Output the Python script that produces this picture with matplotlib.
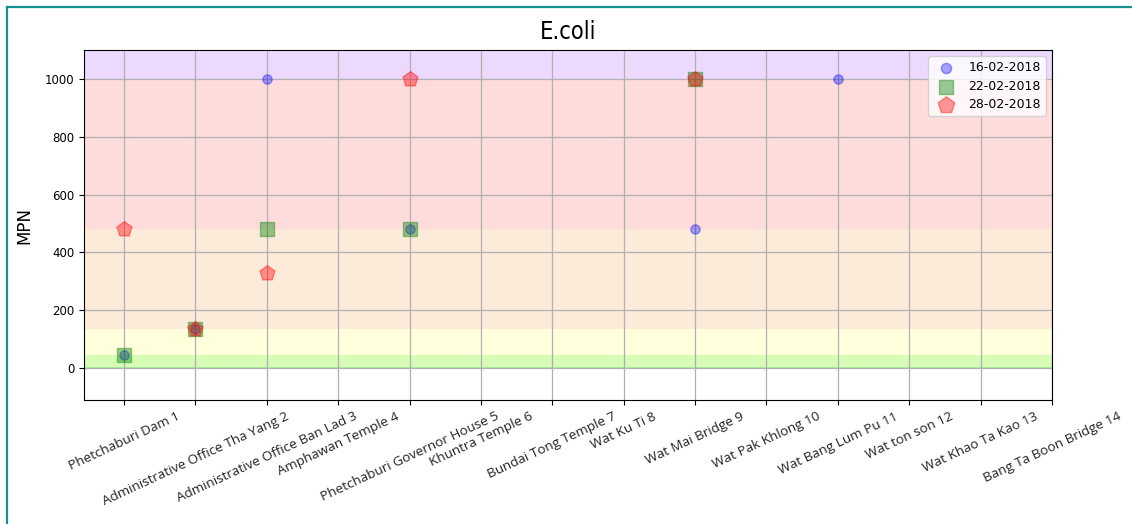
import numpy as np
from matplotlib import pyplot as plt
from matplotlib.lines import Line2D

# sampling sites along the river
sites = ['Phetchaburi Dam 1', 'Administrative Office Tha Yang 2',
         'Administrative Office Ban Lad 3', 'Amphawan Temple 4',
         'Phetchaburi Governor House 5', 'Khuntra Temple 6',
         'Bundai Tong Temple 7', 'Wat Ku Ti 8', 'Wat Mai Bridge 9',
         'Wat Pak Khlong 10', 'Wat Bang Lum Pu 11', 'Wat ton son 12',
         'Wat Khao Ta Kao 13', 'Bang Ta Boon Bridge 14']

nan = np.nan
# E.coli MPN per sampling date (nan = no sample)
ecoli_1602 = [46, 135, 1000, nan, 480, nan, nan, nan, 480, nan, 1000, nan, nan, nan]
ecoli_2202 = [46, 135, 480, nan, 480, nan, nan, nan, 1000, nan, nan, nan, nan, nan]
ecoli_2802 = [480, 135, 330, nan, 1000, nan, nan, nan, 1000, nan, nan, nan, nan, nan]

# quality bands (lower, upper, colour)
band_edges = [0, 5, 46, 135, 480, 1000, 1100]
band_colors = ['#a3f09c', '#d6fcb6', '#ffffdc', '#fdebda', '#ffdcdc', '#edd9fe']

fig = plt.figure(figsize=(11.32, 5.24), dpi=100)
ax = fig.add_axes([0.0742, 0.2366, 0.8551, 0.668])

for i in range(len(band_colors)):
    ax.axhspan(band_edges[i], band_edges[i + 1], color=band_colors[i], zorder=0, lw=0)

x = np.arange(len(sites))
ax.scatter(x, ecoli_1602, marker='o', s=45, color='blue', alpha=0.35, label='16-02-2018', zorder=3)
ax.scatter(x, ecoli_2202, marker='s', s=90, color='green', alpha=0.4, label='22-02-2018', zorder=3)
ax.scatter(x, ecoli_2802, marker='p', s=130, color='red', alpha=0.4, label='28-02-2018', zorder=3)

ax.set_xlim(-0.56, 13)
ax.set_ylim(-110, 1100)
ax.set_xticks(x)
ax.set_xticklabels(sites, rotation=25, fontsize=9.7, family=['Open Sans', 'DejaVu Sans'], color='#222222')
ax.tick_params(axis='y', labelsize=8.5)
ax.set_axisbelow(True)
ax.grid(True, color='#b0b0b0', lw=0.9)

ax.set_ylabel('MPN', fontsize=12, labelpad=8)
ax.set_title('E.coli', fontsize=17, family='DejaVu Sans', fontstretch='condensed', pad=8)
ax.legend(loc='upper right', fontsize=9, labelspacing=0.45, markerscale=1.1)

# notebook cell frame
fig.add_artist(Line2D([7 / 1132, 1], [1 - 7 / 524, 1 - 7 / 524], color='#17918f', lw=1.6))
fig.add_artist(Line2D([7 / 1132, 7 / 1132], [0, 1 - 7 / 524], color='#17918f', lw=1.6))

fig.savefig('out.png', dpi=100)
